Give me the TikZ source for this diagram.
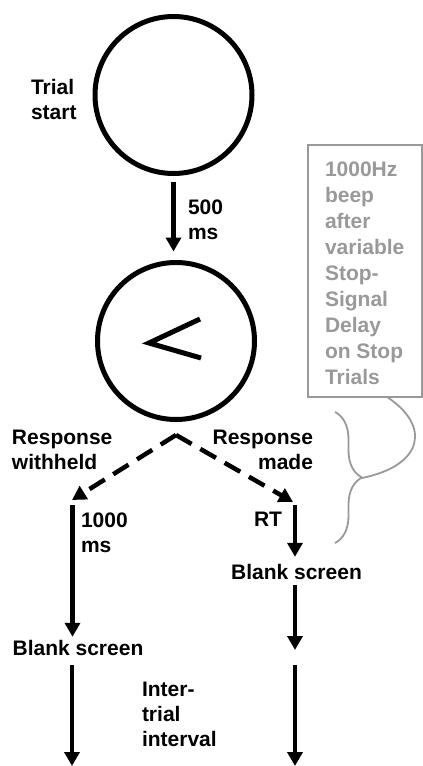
\documentclass[tikz,border=0pt]{standalone}
\usepackage{fontspec}
\setmainfont{Liberation Sans}
\usetikzlibrary{arrows.meta,decorations.pathreplacing}

\begin{document}
\begin{tikzpicture}[x=1pt,y=-1pt]
\tikzstyle{every node}+=[inner sep=0pt, outer sep=0pt, font=\fontsize{21}{25}\selectfont\bfseries]
\tikzstyle{screen}=[draw, circle, line width=5pt, minimum size=157pt]
\tikzstyle{arr}=[line width=4.5pt, -{Triangle[length=14pt,width=15pt]}]
\tikzstyle{dasharr}=[arr, dash pattern=on 18pt off 10pt]
\tikzstyle{note}=[draw=black!40, line width=1.8pt]
\useasboundingbox (0,0) rectangle (423,766);
\node[screen] (fix) at (173.5,95) {};
\node[screen] (go) at (176,341) {};
\draw[line width=5pt] ([shift={(24,-22)}]go.center) -- ([shift={(-27,2)}]go.center) -- ([shift={(25,17)}]go.center);
\node[anchor=west, align=left] (startlbl) at (31,99) {Trial\\start};
\draw[arr, shorten <=8pt, shorten >=11pt] (fix.south) -- (fix.south |- go.north);
\node[anchor=west, align=left] (delay) at (188,220) {500\\ms};
\node[anchor=west, align=left] (withheld) at (12,450) {Response\\withheld};
\node[anchor=east, align=right] (made) at (313,450) {Response\\made};
\coordinate (fork) at (176,435);
\coordinate (lefttip) at (72,500);
\coordinate (righttip) at (293,502);
\draw[dasharr] (fork) -- (lefttip);
\draw[dasharr] (fork) -- (righttip);
\coordinate (wtop) at (72.5,505);
\coordinate (wend) at (72,766);
\node (blankw) at (78,647.5) {Blank screen};
\node[anchor=west, align=left] (waitlbl) at (81,533) {1000\\ms};
\draw[arr, shorten >=3pt] (wtop) -- (wtop |- blankw.north);
\draw[arr, shorten <=10pt] (blankw.south -| wend) -- (wend);
\node[anchor=west, align=left] (iti) at (142,714.5) {Inter-\\trial\\interval};
\coordinate (mtop) at (295,505);
\coordinate (mmid) at (295,650);
\coordinate (mnext) at (295,665);
\coordinate (mend) at (295,766);
\node[anchor=east] (rt) at (282,519.5) {RT};
\node (blankm) at (296.5,571.5) {Blank screen};
\draw[arr, shorten >=7pt] (mtop) -- (mtop |- blankm.north);
\draw[arr, shorten <=6pt] (blankm.south -| mmid) -- (mmid);
\draw[arr] (mnext) -- (mend);
\node[note, anchor=north west, minimum width=114pt, minimum height=252pt] (beepbox) at (308,145) {};
\node[anchor=north west, align=left, text=black!40, font=\fontsize{21}{26}\selectfont\bfseries] (beep) at (325,162) {1000Hz\\beep\\after\\variable\\Stop-\\Signal\\Delay\\on Stop\\Trials};
\coordinate (bracetop) at (335,412);
\coordinate (bracebot) at (335,543);
\coordinate (bracetip) at (362,478);
\draw[note, decorate, decoration={brace, amplitude=27pt}] (bracetop) -- (bracebot);
\draw[note] ([xshift=22pt]beepbox.south) .. controls (430,425) and (425,465) .. (bracetip);
\end{tikzpicture}
\end{document}
